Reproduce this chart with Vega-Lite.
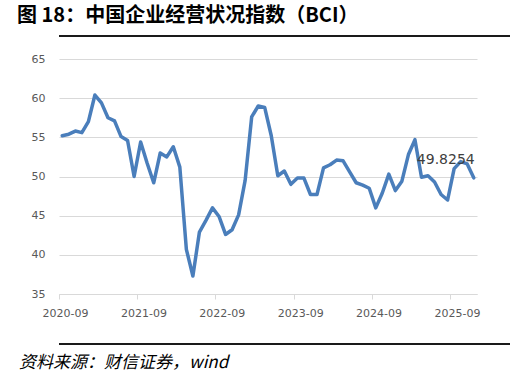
{
  "$schema": "https://vega.github.io/schema/vega-lite/v6.json",
  "padding": {"left": 5, "top": 6, "right": 1, "bottom": 0},
  "background": "white",
  "config": {"view": {"stroke": null}},
  "columns": 1,
  "align": "none",
  "bounds": "full",
  "spacing": 16,
  "datasets": {
    "bci": [
      {"month": "2020-09", "bci": 55.2},
      {"month": "2020-10", "bci": 55.4},
      {"month": "2020-11", "bci": 55.8},
      {"month": "2020-12", "bci": 55.6},
      {"month": "2021-01", "bci": 57.0},
      {"month": "2021-02", "bci": 60.4},
      {"month": "2021-03", "bci": 59.4},
      {"month": "2021-04", "bci": 57.5},
      {"month": "2021-05", "bci": 57.1},
      {"month": "2021-06", "bci": 55.1},
      {"month": "2021-07", "bci": 54.6},
      {"month": "2021-08", "bci": 50.0},
      {"month": "2021-09", "bci": 54.4},
      {"month": "2021-10", "bci": 51.7},
      {"month": "2021-11", "bci": 49.2},
      {"month": "2021-12", "bci": 53.0},
      {"month": "2022-01", "bci": 52.5},
      {"month": "2022-02", "bci": 53.8},
      {"month": "2022-03", "bci": 51.2},
      {"month": "2022-04", "bci": 40.7},
      {"month": "2022-05", "bci": 37.3},
      {"month": "2022-06", "bci": 42.9},
      {"month": "2022-07", "bci": 44.4},
      {"month": "2022-08", "bci": 46.0},
      {"month": "2022-09", "bci": 44.9},
      {"month": "2022-10", "bci": 42.6},
      {"month": "2022-11", "bci": 43.2},
      {"month": "2022-12", "bci": 45.1},
      {"month": "2023-01", "bci": 49.5},
      {"month": "2023-02", "bci": 57.6},
      {"month": "2023-03", "bci": 59.0},
      {"month": "2023-04", "bci": 58.8},
      {"month": "2023-05", "bci": 55.2},
      {"month": "2023-06", "bci": 50.1},
      {"month": "2023-07", "bci": 50.7},
      {"month": "2023-08", "bci": 49.0},
      {"month": "2023-09", "bci": 49.8},
      {"month": "2023-10", "bci": 49.8},
      {"month": "2023-11", "bci": 47.7},
      {"month": "2023-12", "bci": 47.7},
      {"month": "2024-01", "bci": 51.1},
      {"month": "2024-02", "bci": 51.5},
      {"month": "2024-03", "bci": 52.1},
      {"month": "2024-04", "bci": 52.0},
      {"month": "2024-05", "bci": 50.6},
      {"month": "2024-06", "bci": 49.2},
      {"month": "2024-07", "bci": 48.9},
      {"month": "2024-08", "bci": 48.5},
      {"month": "2024-09", "bci": 46.0},
      {"month": "2024-10", "bci": 47.9},
      {"month": "2024-11", "bci": 50.3},
      {"month": "2024-12", "bci": 48.2},
      {"month": "2025-01", "bci": 49.4},
      {"month": "2025-02", "bci": 52.8},
      {"month": "2025-03", "bci": 54.7},
      {"month": "2025-04", "bci": 49.9},
      {"month": "2025-05", "bci": 50.1},
      {"month": "2025-06", "bci": 49.3},
      {"month": "2025-07", "bci": 47.7},
      {"month": "2025-08", "bci": 47.0},
      {"month": "2025-09", "bci": 51.0},
      {"month": "2025-10", "bci": 51.9},
      {"month": "2025-11", "bci": 51.6},
      {"month": "2025-12", "bci": 49.8254}
    ]
  },
  "concat": [
    {
      "width": 451,
      "height": 10,
      "title": {
        "text": "图 18：中国企业经营状况指数（BCI）",
        "anchor": "start",
        "dx": -41,
        "offset": 0,
        "font": "Noto Sans CJK SC",
        "fontSize": 20,
        "fontWeight": "bold",
        "color": "#000000"
      },
      "data": {"values": [{"start": 0, "end": 1}]},
      "mark": {"type": "rule", "color": "#1a1a1a", "strokeWidth": 2},
      "encoding": {
        "x": {"field": "start", "type": "quantitative", "scale": {"domain": [0, 1]}, "axis": {"title": null, "labels": false, "ticks": false, "domain": false, "grid": false}},
        "x2": {"field": "end"},
        "y": {"datum": 0, "type": "quantitative", "scale": {"domain": [0, 1]}, "axis": {"title": null, "labels": false, "ticks": false, "domain": false, "grid": false}}
      }
    },
    {
      "width": 418,
      "height": 235,
      "data": {"name": "bci"},
      "encoding": {
        "x": {
          "field": "month",
          "type": "ordinal",
          "sort": null,
          "scale": {"type": "band", "paddingInner": 0, "paddingOuter": 0},
          "axis": {
            "title": null,
            "values": ["2020-09", "2021-09", "2022-09", "2023-09", "2024-09", "2025-09"],
            "bandPosition": 0,
            "labelOffset": 3.3,
            "labelAngle": 0,
            "labelFont": "DejaVu Sans",
            "labelFontSize": 11,
            "labelColor": "#595959",
            "labelPadding": 8,
            "tickColor": "#d9d9d9",
            "tickSize": 5,
            "domainColor": "#d9d9d9",
            "domainWidth": 1,
            "grid": false
          }
        },
        "y": {
          "field": "bci",
          "type": "quantitative",
          "scale": {"domain": [35, 65], "nice": false, "zero": false},
          "axis": {
            "title": null,
            "values": [35, 40, 45, 50, 55, 60, 65],
            "domain": false,
            "ticks": false,
            "grid": true,
            "gridColor": "#d9d9d9",
            "gridWidth": 1,
            "labelFont": "DejaVu Sans",
            "labelFontSize": 11,
            "labelColor": "#595959",
            "labelPadding": 14,
            "minExtent": 54
          }
        }
      },
      "layer": [
        {
          "mark": {"type": "line", "color": "#4a7ebb", "strokeWidth": 3.5, "strokeJoin": "round", "strokeCap": "round"}
        },
        {
          "transform": [{"filter": "datum.month == '2025-12'"}],
          "mark": {"type": "text", "align": "right", "baseline": "middle", "dx": 1, "dy": -18, "font": "DejaVu Sans", "fontSize": 14, "color": "#404040"},
          "encoding": {"text": {"field": "bci", "type": "quantitative", "format": ".4f"}}
        }
      ]
    },
    {
      "width": 451,
      "height": 10,
      "title": {
        "text": "资料来源：财信证券，wind",
        "orient": "bottom",
        "anchor": "start",
        "dx": -39,
        "offset": 10,
        "font": "Noto Sans CJK SC",
        "fontSize": 17,
        "fontStyle": "italic",
        "fontWeight": "normal",
        "color": "#000000"
      },
      "data": {"values": [{"start": 0, "end": 1}]},
      "mark": {"type": "rule", "color": "#1a1a1a", "strokeWidth": 2},
      "encoding": {
        "x": {"field": "start", "type": "quantitative", "scale": {"domain": [0, 1]}, "axis": {"title": null, "labels": false, "ticks": false, "domain": false, "grid": false}},
        "x2": {"field": "end"},
        "y": {"datum": 0, "type": "quantitative", "scale": {"domain": [0, 1]}, "axis": {"title": null, "labels": false, "ticks": false, "domain": false, "grid": false}}
      }
    }
  ]
}
